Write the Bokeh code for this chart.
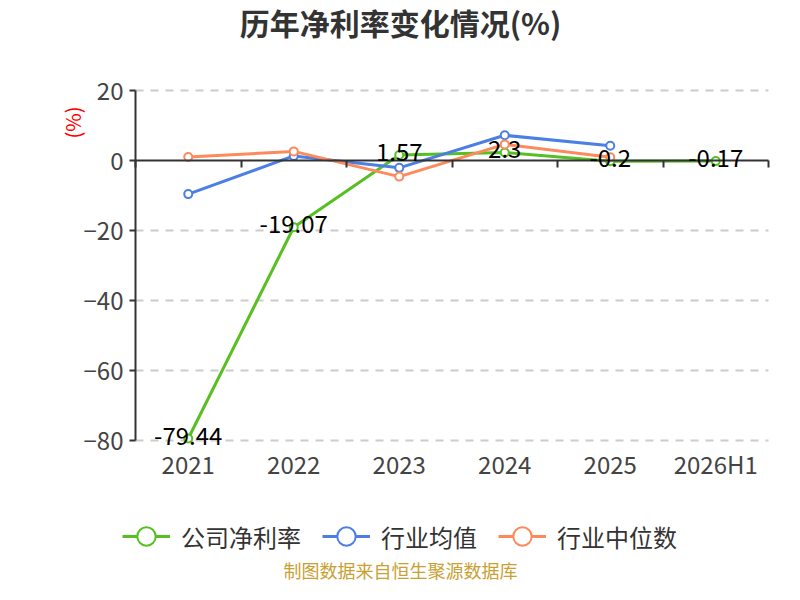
from math import pi
from bokeh.plotting import figure
from bokeh.models import (Range1d, FixedTicker, LinearAxis, LabelSet, Label,
                          ColumnDataSource, Legend, LegendItem)
from bokeh.core.properties import value
from bokeh.embed import file_html
from bokeh.resources import INLINE

# ---------------- data ----------------
categories = ["2021", "2022", "2023", "2024", "2025", "2026H1"]
company_margin = [-79.44, -19.07, 1.57, 2.3, -0.2, -0.17]
industry_avg = [-9.6, 1.3, -2.1, 7.2, 4.2]
industry_median = [1.0, 2.6, -4.6, 4.6, 0.9]
y_ticks = [-80, -60, -40, -20, 0, 20]
series_names = ["公司净利率", "行业均值", "行业中位数"]
title_text = "历年净利率变化情况(%)"
unit_text = "(%)"
footer_text = "制图数据来自恒生聚源数据库"

FONT = "Noto Sans CJK SC"
GREEN = "#56c022"
BLUE = "#4b7fe3"
ORANGE = "#fc8a5c"
COLORS = [GREEN, BLUE, ORANGE]
AXIS = "#333333"

# ---------------- layout geometry (canvas pixels) ----------------
W, H = 784, 584
n = len(categories)
y_min, y_max = min(y_ticks), max(y_ticks)
PLOT_L, PLOT_R, PLOT_T, PLOT_B = 135, 768, 90, 440
XPX = (PLOT_R - PLOT_L) / n              # pixels per category
YPX = (PLOT_B - PLOT_T) / (y_max - y_min)  # pixels per y unit


def dx(px):
    return (px - PLOT_L) / XPX


def dy(py):
    return y_max - (py - PLOT_T) / YPX


p = figure(width=W, height=H, output_backend="svg", toolbar_location=None,
           x_range=Range1d(dx(0), dx(W)), y_range=Range1d(dy(H), dy(0)),
           x_axis_type=None, y_axis_type=None, min_border=0,
           min_border_left=0, min_border_right=0, min_border_top=0, min_border_bottom=0,
           outline_line_color=None, background_fill_color="white",
           border_fill_color="white")
p.grid.grid_line_color = None

xc = [i + 0.5 for i in range(n)]

# horizontal dashed grid lines across the plot area
grid_y = [t for t in y_ticks if t != 0]
p.segment(x0=[0] * len(grid_y), x1=[n] * len(grid_y), y0=grid_y, y1=grid_y,
          line_color="#cccccc", line_width=2, line_dash="8 7")

# left value axis
ya = LinearAxis(fixed_location=0, ticker=FixedTicker(ticks=y_ticks), bounds=(y_min, y_max),
                axis_line_color=AXIS, axis_line_width=2,
                major_tick_line_color=AXIS, major_tick_line_width=2,
                major_tick_in=0, major_tick_out=6, minor_tick_line_color=None,
                major_label_standoff=6, major_label_text_font=FONT,
                major_label_text_font_size="24px", major_label_text_color="#444444")
p.add_layout(ya, "left")

# category axis crossing at zero (line + boundary ticks)
zero_axis = LinearAxis(fixed_location=0, ticker=FixedTicker(ticks=list(range(n + 1))),
                       bounds=(0, n),
                       major_label_overrides={i: "" for i in range(n + 1)},
                       axis_line_color=AXIS, axis_line_width=2,
                       major_tick_line_color=AXIS, major_tick_line_width=2,
                       major_tick_in=0, major_tick_out=7, minor_tick_line_color=None)
p.add_layout(zero_axis, "below")

# category labels below the plot area
cat_axis = LinearAxis(fixed_location=dy(PLOT_B + 2), ticker=FixedTicker(ticks=xc),
                      major_label_overrides={x: c for x, c in zip(xc, categories)},
                      axis_line_color=None, major_tick_line_color=None,
                      minor_tick_line_color=None, major_tick_out=0,
                      major_label_standoff=3, major_label_text_font=FONT,
                      major_label_text_font_size="24px", major_label_text_color="#444444")
p.add_layout(cat_axis, "below")

# series
renderers = []
for vals, color in zip([company_margin, industry_avg, industry_median], COLORS):
    xs = xc[:len(vals)]
    l = p.line(xs, vals, line_color=color, line_width=3)
    s = p.scatter(xs, vals, size=8, marker="circle", fill_color="white",
                  line_color=color, line_width=2)
    renderers.append([l, s])

# data labels
lbl_src = ColumnDataSource(dict(x=xc, y=company_margin,
                                t=[f"{v:g}" for v in company_margin]))
p.add_layout(LabelSet(x="x", y="y", text="t", source=lbl_src, text_align="center",
                      text_baseline="middle", y_offset=3, text_font=value(FONT),
                      text_font_size=value("24px"), text_color="black"))

# title, unit, footer
p.add_layout(Label(x=dx(400), y=dy(21), text=title_text, text_align="center",
                   text_baseline="middle", text_font=FONT, text_font_size="30px",
                   text_font_style="bold", text_color="#333333"))
p.add_layout(Label(x=dx(72), y=dy(122), text=unit_text, angle=pi / 2,
                   text_align="center", text_baseline="middle", text_font=FONT,
                   text_font_size="20px", text_color="red"))
p.add_layout(Label(x=dx(400), y=dy(569), text=footer_text, text_align="center",
                   text_baseline="middle", text_font=FONT, text_font_size="18px",
                   text_color="#c9a032"))

# legend
legend = Legend(items=[LegendItem(label=nm, renderers=r) for nm, r in zip(series_names, renderers)],
                orientation="horizontal", location=(122, H - 536 - 23),
                glyph_width=48, glyph_height=46, label_standoff=11, spacing=21,
                padding=0, margin=0, border_line_color=None, background_fill_alpha=0,
                label_text_font=FONT, label_text_font_size="24px",
                label_text_color="#333333")
p.add_layout(legend, "center")

open("out.html", "w").write(file_html(p, INLINE))
